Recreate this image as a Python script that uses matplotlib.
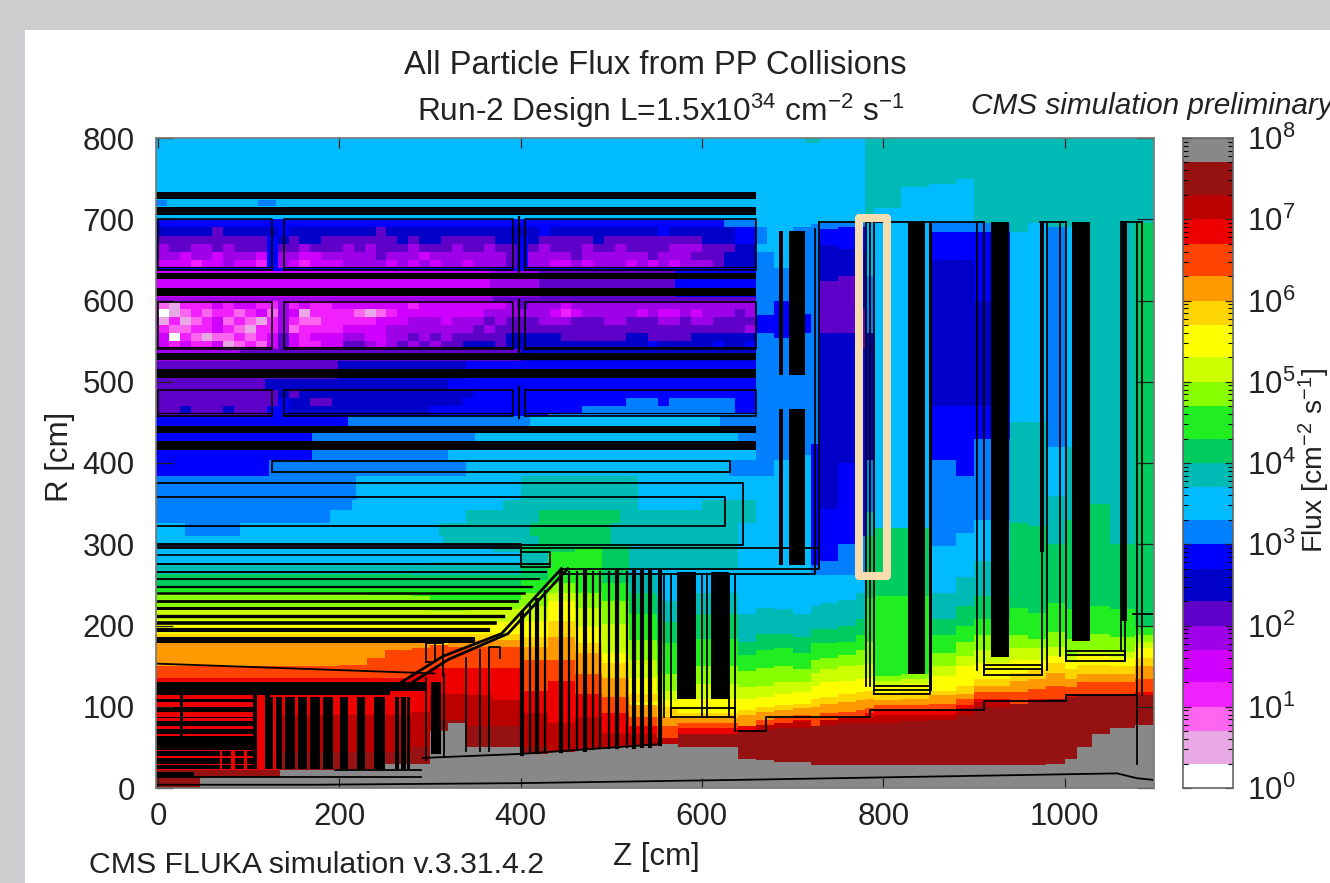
import re
import numpy as np
import matplotlib
matplotlib.use("Agg")
import matplotlib.pyplot as plt
from matplotlib.colors import ListedColormap, BoundaryNorm
from matplotlib.patches import Rectangle
from matplotlib.ticker import LogLocator, NullFormatter

plt.rcParams['font.family'] = ['Liberation Sans', 'DejaVu Sans']
plt.rcParams['mathtext.fontset'] = 'custom'
plt.rcParams['mathtext.rm'] = 'Liberation Sans'
plt.rcParams['mathtext.it'] = 'Liberation Sans:italic'
plt.rcParams['mathtext.default'] = 'regular'

# flux bands, a (lowest) to x (highest)
band_edges = [1, 2, 5, 10, 20, 50, 100, 200, 500, 1e3, 2e3, 5e3, 1e4, 2e4, 5e4, 1e5,
              2e5, 5e5, 1e6, 2e6, 5e6, 1e7, 2e7, 5e7, 1e8]
band_colors = ['#FFFFFF', '#E8A8E6', '#FF66F0', '#F020FF', '#D000FF', '#9E00E8', '#5E00C8', '#0000C8',
               '#0000FF', '#0080FF', '#00BBFF', '#00BBB5', '#00CC60', '#20EE20', '#88FF00', '#CCFF00',
               '#FFFF00', '#FFD500', '#FF9900', '#FF4400', '#EE0000', '#BB0000', '#961111', '#888888']
band_names = 'abcdefghijklmnopqrstuvwx'

# columns: left edge in Z, then band + top R going upward
flux_columns = [
    (-4, "w22 u137 t151 s178 r190 q207 p223 o240 n248 m264 l276 k299"),
    (46, "x14 w22 u137 t151 s178 r190 q207 p223 o240 n248 m264 l276 k299"),
    (135, "x22 w45 v90 u137 t151 s178 r190 q207 p223 o240 n248 m264 l276 k299"),
    (200, "x24 w45 v90 u137 t153 s178 r190 q207 p223 o240 n248 m264 l276 k299"),
    (230, "x24 w45 v90 u137 t160 s178 r190 q205 p222 o238 n248 m264 l276 k299"),
    (250, "x30 w45 v90 u137 t170 s180 r190 q205 p222 o238 n248 m264 l276 k299"),
    (280, "x30 w50 v95 u140 t172 s180 r190 q205 p220 o236 n246 m262 l276 k299"),
    (300, "x70 w85 v117 u149 t177 r190 q203 p218 o232 n246 m262 l278 k299"),
    (320, "x80 w85 v117 u149 t175 s182 r190 q203 p218 o232 n246 m262 l278 k299"),
    (340, "x51 w76 v115 u149 t175 s182 r190 q205 p220 o232 n246 m262 l278 k299"),
    (370, "x51 w76 v109 u149 t174 s182 r190 q205 p220 o232 n246 m262 l278 k290 l299"),
    (400, "x43 w51 v92 u121 t158 s174 r186 q207 p225 o240 n256 m275 l290 m299"),
    (430, "x45 v80 u133 t158 s186 r207 q231 p240 o252 n290 m299"),
    (460, "x49 v88 u117 t141 s166 r178 q199 p223 o240 n297 m299"),
    (490, "x51 v68 u92 t113 s137 r154 q166 p203 o231 n252 m299"),
    (520, "x53 v66 u76 t88 s104 r117 q137 p158 o182 n215 m240 l264 k270 l299"),
    (550, "x55 v63 t76 s88 r100 q108 p121 o141 n178 m205 l231 k270 l299"),
    (575, "x51 w67 u74 t80 s86 r92 q110 p128 o150 n185 m215 l240 k268 l299"),
    (640, "x37 w72 u76 s90 r97 q110 p125 o145 n165 m180 l215 k299"),
    (660, "x35 w73 v78 t84 s94 r100 q112 p127 o148 n170 m190 l222 k385 j560 i582 j660 k800"),
    (680, "x33 w74 v80 t87 s97 r103 q116 p130 o150 n172 m190 l220 k405 j555 i600 j640 k800"),
    (700, "x33 w74 v82 u85 t91 s99 r105 q118 p130 o147 n167 m187 l215 k410 j560 i585 j690 k800"),
    (720, "x29 w77 t86 s100 r110 q127 p143 o159 n178 m196 l224 k262 j275 i425 j695 k800"),
    (730, "x29 w78 v85 t92 s104 r113 q130 p147 o160 n178 m197 l228 k262 j280 i345 h560 g625 h668 i688 j697 k800"),
    (750, "x29 w80 v86 t94 s106 r116 q133 p150 o164 n180 m200 l232 k262 j300 i400 h560 g630 h665 i690 j697 k800"),
    (770, "x29 w80 v88 t96 s108 r118 q135 p152 o170 n188 m208 l240 k262 j310 i540 g590 h660 i690 j697 k800"),
    (780, "x29 w80 v88 u92 t98 s110 r120 q137 p155 o180 n235 m310 l340 j405 h560 j630 k697 l800"),
    (790, "x29 w80 v90 u96 t102 s108 r116 q126 p133 o139 n236 m320 k715 l800"),
    (820, "x29 w82 v90 u96 t103 s110 r118 q128 p135 o140 n236 m320 k740 l800"),
    (850, "x29 w84 v90 u96 t104 s114 r120 q139 p151 o167 n188 m208 l240 k298 j405 i470 h650 i684 j697 k745 l800"),
    (880, "x29 w90 v98 u102 t110 s116 r127 q151 p163 o180 n200 m224 l261 k314 j385 i470 h650 i684 j697 k750 l800"),
    (900, "x29 w100 v106 u110 t118 s127 r135 q155 p171 o188 n208 m236 l281 k330 j430 i470 h600 i684 j697 l800"),
    (940, "x29 w104 t118 s133 r143 q159 p173 o188 n222 m326 l450 k685 l800"),
    (960, "x29 w106 u110 t122 s135 r147 q159 p172 o184 n216 m322 l450 k697 l800"),
    (980, "x31 w110 t126 s143 r155 q162 p175 o192 n228 m300 l360 k420 j690 l800"),
    (1000, "x37 w112 u114 t125 s135 r147 q156 p165 o185 n220 m330 l420 k690 l800"),
    (1015, "x50 w115 t130 s141 r153 q163 p170 o190 n224 m350 l800"),
    (1030, "x66 w116 t130 s141 r153 q163 p170 o190 n224 m350 l800"),
    (1050, "x74 w116 t130 s140 r150 q160 p168 o186 n220 m300 l800"),
    (1078, "x78 w114 u118 t135 s150 r160 q172 p181 o188 n200 m697 l800"),
]

# rows above the tracker for Z < 660: R low, R high, band + right Z going along
barrel_rows = [
    (299, 311, "k315 l420 m500 l640 k660"),
    (311, 326, "k30 j90 k310 l410 m500 l640 k660"),
    (326, 342, "j190 k340 l420 m510 l660"),
    (342, 354, "j215 k380 l530 k600 l660"),
    (354, 384, "j218 k400 l530 k660"),
    (384, 404, "i122 j340 k630 j660"),
    (404, 427, "i170 j320 k660"),
    (427, 445, "i170 j350 k640 j660"),
    (445, 459, "i210 j410 k620 j660"),
    (459, 490, "g126 i139 h310 i430 j660"),
    (490, 505, "g118 h320 i660"),
    (505, 526, "g198 h340 i660"),
    (526, 540, "f90 g400 h660"),
    (540, 600, "f660"),
    (600, 605, "f370 g660"),
    (605, 636, "e366 f420 g570 i660"),
    (636, 701, "i660"),
    (701, 716, "k660"),
    (716, 725, "j10 k110 j130 k660"),
    (725, 800, "k660"),
]

# muon stations, 12 cm cells from Z=0, 10 cm rows from the given top R down
station_mb4_top = 700
station_mb4 = [
    "iiiiiiiiiiiiiiiiiiiiiiiiiiiiiiiiiiiiiiiiiiiiiiiiiiiijjj",
    "hhhhhghhhhhihhhhhhhhghhhhhhhhhhhhhhihhhhhhhhhhihhhhhhiij",
    "ggggggggggihghhggggggghghhggggghhihggggghggggggggghhhiij",
    "fggffgfgggiggfgggfgfgggfgggfggfggigfgggfggfggggfffggghh",
    "ffeffefffeiffeefffffgfffefffffffgiffffgffffffgfffggghhh",
    "eeedeefeedifedeeeffffefefeffefffgiffeefefffefefefffghhh",
]
station_mb3_top = 600
station_mb3 = [
    "cbdddedeeddfdeddeeeeeeedeeeeeeeefgfffefffffffffffffffff",
    "abcdcddcdecfebddddcbcdeeeeeeeeffffffedefffffefeefefffgf",
    "bdbcdecdcbdfdccdddddeeefffefffgfgggfffgggffgggffgffgggg",
    "dccddedcbddfcddddeeeeffffffffgfggggggggggggggggggggggg",
    "eadcbccdcdegedeeeffeeffgfgfggggghhhhhgggggghhgggghhhhhh",
    "ededdebcdcegeddeeggfefgfgfgghhhghhhhhhhhhhhhhihhhhhihhi",
]
station_mb2_top = 490
station_mb2 = [
    "ggggggggggghghhhhhhhhhhhhhhhhiiiiiiiiiiiiiiiiiiiiiiiiii",
    "gggggggggggihhgghhhhhhhhhhhhiiiiiiiiiiiiiiijjjijjjjjjii",
    "gghggghgggiihhhhhhhhhhhhhiiiiiiiiiiiiiijjjjjjjjjjjjjjii",
]

# small bits of flux on top of the columns: Z0, Z1, R0, R1, band
flux_patches = [(523, 637, 103, 107, 'q'), (715, 730, 795, 800, 'l')]

# iron: Z0, Z1, R0, R1
iron_r = [(725, 733), (705, 715), (626, 634), (605, 616), (527, 536), (505, 516), (437, 445), (416, 427)]
black_blocks = [
    (696, 714, 508, 685), (696, 714, 275, 467), (685, 689, 508, 685), (685, 689, 275, 467),
    (827, 846, 140, 697), (919, 939, 161, 697), (1008, 1028, 181, 697),
    (850, 854, 120, 697), (973, 977, 290, 697), (1063, 1069, 205, 697),
    (573, 593, 110, 266), (610, 630, 110, 266),
    (-3, 350, 178, 186), (-3, 256, 115, 131), (256, 296, 120, 131),
    (-3, 105, 106, 110), (-3, 105, 93, 100), (-3, 105, 86, 88), (-3, 105, 76, 82),
    (-3, 105, 67, 73), (-3, 105, 47, 64), (-3, 105, 39, 45), (-3, 105, 30, 37), (-3, 105, 23, 28),
    (-3, 40, 14, 20), (24, 28, 60, 115), (105, 109, 24, 115), (118, 123, 24, 115),
    (301, 312, 42, 130),
]
# gaps between the red windows of the endcap calorimeter
hcal_bars = [(123, 127), (130, 137), (140, 151), (154, 164), (168, 179), (182, 193), (201, 210),
             (219, 228), (238, 250), (261, 266), (268, 273), (275, 278)]
red_windows = [(68, 71, 24, 47), (81, 85, 24, 47), (95, 98, 24, 47)]

# outlines, as Z list and R list
muon_box_z = [(0, 126), (139, 392), (405, 660)]
muon_box_r = [(638, 700), (540, 598), (458, 490)]
muon_gap_z = [132, 398]
tracker_line_r = [297, 287, 276, 266, 257, 248, 240, 230, 221, 212, 203, 194]
tracker_line_z = [400, 400, 432, 428, 420, 412, 404, 396, 388, 380, 372, 364]
tracker_line_w = [1.2, 1.2, 1.4, 1.4, 1.5, 1.6, 1.8, 2.0, 2.2, 2.4, 2.6, 3.0]
yoke_z = [401, 410, 418, 427, 445, 453, 462, 471, 480, 488, 497, 506, 517, 525, 534, 543, 554]
yoke_top = [215, 225, 232, 243, 266, 266, 266, 266, 266, 266, 266, 266, 266, 266, 266, 266, 266]
yoke_bottom = [42, 43, 44, 44, 45, 46, 47, 47, 48, 49, 49, 50, 51, 51, 52, 52, 54]
yoke_w = [3, 1.6, 3, 1.6, 3, 1.6, 1.6, 3, 1.6, 1.6, 1.6, 3, 1.6, 3, 3, 3, 3]
diagonal_z = [[445, 379, 314, 261], [452, 386, 320, 268]]
diagonal_r = [[270, 190, 162, 125], [270, 190, 158, 121]]
outlines = [
    ([126, 631, 631, 126, 126], [389, 389, 402, 402, 389]),
    ([0, 645, 645, 0], [299, 299, 376, 376]),
    ([0, 625, 625, 0], [323, 323, 358, 358]),
    ([0, 305], [153, 141]),
    ([0, 660, 729, 729], [296, 296, 296, 296]),
    ([445, 729, 729], [270, 270, 697]),
    ([445, 725, 725], [264, 264, 688]),
    ([0, 400, 400, 432, 432, 400], [300, 300, 272, 272, 290, 290]),
    ([296, 296, 305, 305, 296], [155, 178, 178, 155, 155]),
    ([305, 314, 314], [178, 178, 138]),
    ([340, 340], [46, 160]), ([355, 355], [46, 170]), ([365, 365, 377, 377], [46, 174, 174, 160]),
    ([296, 296], [35, 135]), ([315, 315], [40, 140]),
    ([292, 401, 554], [37, 42, 54]),
    ([0, 290], [14, 14]), ([195, 290], [22, 22]),
    ([-3, 170, 400, 640, 1058, 1080, 1098], [4, 4, 6, 10, 18, 12, 10]),
    ([640, 671, 671, 785, 785, 911, 911, 1002, 1002, 1080], [70, 70, 88, 88, 96, 96, 107, 107, 115, 115]),
    ([558, 558], [88, 262]), ([566, 566], [88, 262]), ([600, 600], [88, 262]), ([606, 606], [88, 262]),
    ([630, 630], [88, 262]), ([637, 637], [70, 262]),
    ([566, 637, 637, 566, 566], [87, 87, 98, 98, 87]),
    ([729, 772], [697, 697]), ([853, 911], [697, 697]), ([973, 1002], [697, 697]), ([1062, 1085], [697, 697]),
    ([781, 781, 785, 785], [126, 697, 697, 126]),
    ([790, 790, 852, 852, 790], [116, 697, 697, 116, 116]), ([790, 852], [121, 121]), ([790, 852], [126, 126]),
    ([903, 903, 911, 911], [145, 697, 697, 139]), ([975, 975, 981, 981], [139, 697, 697, 145]),
    ([911, 975, 975, 911, 911], [139, 139, 151, 151, 139]), ([911, 975], [147, 147]),
    ([995, 995, 1002, 1002], [163, 697, 697, 156]),
    ([1002, 1067, 1067, 1002, 1002], [156, 156, 169, 169, 156]), ([1002, 1067], [164, 164]),
    ([1062, 1062, 1067, 1067], [170, 697, 697, 156]),
    ([1080, 1080, 1085, 1085], [115, 697, 697, 115]),
    ([1076, 1098], [214, 214]),
    ([1080, 1080], [30, 115]),
]

z_ticks = [0, 200, 400, 600, 800, 1000]
r_ticks = [0, 100, 200, 300, 400, 500, 600, 700, 800]
flux_ticks = [1, 10, 100, 1e3, 1e4, 1e5, 1e6, 1e7, 1e8]
flux_tick_labels = ['$10^{%d}$' % i for i in range(9)]


def segments(text):
    return [(a, int(b)) for a, b in re.findall(r'([a-x])(\d+)', text)]


def main():
    dz = 2.0
    dr = 2.0
    z_edges = np.arange(-4, 1100 + dz, dz)
    r_edges = np.arange(0, 800 + dr, dr)
    z_mid = 0.5 * (z_edges[1:] + z_edges[:-1])
    r_mid = 0.5 * (r_edges[1:] + r_edges[:-1])
    band_mid = np.sqrt(np.array(band_edges[1:]) * np.array(band_edges[:-1]))
    band_value = dict(zip(band_names, band_mid))
    flux = np.full((len(r_mid), len(z_mid)), band_value['k'])

    # columns first
    for i in range(len(flux_columns)):
        z0, text = flux_columns[i]
        z1 = flux_columns[i + 1][0] if i + 1 < len(flux_columns) else 1101
        zs = (z_mid >= z0) & (z_mid < z1)
        low = 0
        for name, top in segments(text):
            rs = (r_mid >= low) & (r_mid < top)
            flux[np.ix_(rs, zs)] = band_value[name]
            low = top
    # barrel rows above
    for r0, r1, text in barrel_rows:
        rs = (r_mid >= r0) & (r_mid < r1)
        low = -4
        for name, end in segments(text):
            zs = (z_mid >= low) & (z_mid < end)
            flux[np.ix_(rs, zs)] = band_value[name]
            low = end
    # blotchy muon stations
    for top, rows in [(station_mb4_top, station_mb4), (station_mb3_top, station_mb3), (station_mb2_top, station_mb2)]:
        for j in range(len(rows)):
            rs = (r_mid < top - j * 10) & (r_mid >= top - (j + 1) * 10)
            for k in range(len(rows[j])):
                zs = (z_mid >= k * 12) & (z_mid < (k + 1) * 12)
                flux[np.ix_(rs, zs)] = band_value[rows[j][k]]
    for z0, z1, r0, r1, name in flux_patches:
        rs = (r_mid >= r0) & (r_mid < r1)
        zs = (z_mid >= z0) & (z_mid < z1)
        flux[np.ix_(rs, zs)] = band_value[name]

    cmap = ListedColormap(band_colors)
    norm = BoundaryNorm(band_edges, len(band_colors))

    fig = plt.figure(figsize=(13.30, 8.83), dpi=100, facecolor='#CDCED0')
    fig.add_artist(Rectangle((25 / 1330, 0), 1 - 25 / 1330, 1 - 30 / 883, transform=fig.transFigure,
                             facecolor='white', edgecolor='none', zorder=-5))

    ax = fig.add_axes([155.5 / 1330, 95 / 883, 998.5 / 1330, 650 / 883])
    ax.pcolormesh(z_edges, r_edges, flux, cmap=cmap, norm=norm, rasterized=True)

    # iron and absorbers
    for r0, r1 in iron_r:
        ax.fill_between([-3, 660], r0, r1, color='black', lw=0)
    for z0, z1, r0, r1 in black_blocks:
        ax.fill_between([z0, z1], r0, r1, color='black', lw=0)
    for z0, z1 in hcal_bars:
        ax.fill_between([z0, z1], 24, 112, color='black', lw=0)
    for z0, z1, r0, r1 in red_windows:
        ax.fill_between([z0, z1], r0, r1, color=band_colors[20], lw=0)

    # outlines
    for z0, z1 in muon_box_z:
        for r0, r1 in muon_box_r:
            ax.plot([z0, z1, z1, z0, z0], [r0, r0, r1, r1, r0], color='black', lw=1.2)
            ax.plot([z0, z1], [r0 + 3, r0 + 3], color='black', lw=0.8)
    for z in muon_gap_z:
        for r0, r1 in muon_box_r:
            if z == 398:
                ax.plot([z, z], [r0 - 3, r1 + 3], color='black', lw=1.5)
    for i in range(len(tracker_line_r)):
        ax.plot([0, tracker_line_z[i]], [tracker_line_r[i], tracker_line_r[i]], color='black', lw=tracker_line_w[i])
    for i in range(len(yoke_z)):
        ax.plot([yoke_z[i], yoke_z[i]], [yoke_bottom[i], yoke_top[i]], color='black', lw=yoke_w[i])
    for i in range(len(diagonal_z)):
        ax.plot(diagonal_z[i], diagonal_r[i], color='black', lw=2.0)
    for zs, rs in outlines:
        ax.plot(zs, rs, color='black', lw=1.3)

    # highlighted station
    ax.add_patch(Rectangle((773.8, 261), 30.2, 440.5, fill=False, edgecolor='#F6DDB0', lw=5.8,
                           joinstyle='round', zorder=5))

    ax.set_xlim(-2.8, 1098.7)
    ax.set_ylim(0, 800)
    ax.set_xticks(z_ticks)
    ax.set_yticks(r_ticks)
    ax.tick_params(axis='x', direction='in', top=True, bottom=True, length=7, width=0.9, labelsize=22.5, pad=10,
                   colors='#222222')
    ax.tick_params(axis='y', direction='in', left=True, right=True, length=12, width=0.9, labelsize=22.5, pad=15,
                   colors='#222222')
    for s in ax.spines.values():
        s.set_color('#777777')
        s.set_linewidth(1.2)

    # colour scale
    cax = fig.add_axes([1183 / 1330, 95 / 883, 50 / 1330, 650 / 883])
    cax.pcolormesh([0, 1], band_edges, band_mid[:, None], cmap=cmap, norm=norm)
    cax.set_yscale('log')
    cax.set_ylim(1, 1e8)
    cax.set_xticks([])
    cax.yaxis.tick_right()
    cax.set_yticks(flux_ticks)
    cax.set_yticklabels(flux_tick_labels)
    cax.yaxis.set_minor_locator(LogLocator(base=10, subs=np.arange(2, 10), numticks=20))
    cax.yaxis.set_minor_formatter(NullFormatter())
    cax.tick_params(axis='y', which='major', direction='in', left=True, right=True, length=6, width=0.9,
                    labelsize=22.5, pad=10, colors='#222222')
    cax.tick_params(axis='y', which='minor', direction='in', left=True, right=True, length=3.5, width=0.8)
    for s in cax.spines.values():
        s.set_color('#666666')
        s.set_linewidth(1.2)

    # text in figure pixels
    def put(x, y, s, **kw):
        fig.text(x / 1330, 1 - y / 883, s, color='#222222', **kw)

    put(655, 65, 'All Particle Flux from PP Collisions', fontsize=23.6, ha='center', va='center')
    put(661, 111, 'Run-2 Design L=1.5x10$^{34}$ cm$^{-2}$ s$^{-1}$', fontsize=22.8, ha='center', va='center')
    put(971, 106, 'CMS simulation preliminary', fontsize=21.4, style='italic', ha='left', va='center')
    put(60, 457, 'R [cm]', fontsize=22.5, rotation=90, ha='center', va='center')
    put(656, 857, 'Z [cm]', fontsize=22.5, ha='center', va='center')
    put(89, 865, 'CMS FLUKA simulation v.3.31.4.2', fontsize=21.8, ha='left', va='center')
    put(1314, 460, 'Flux [cm$^{-2}$ s$^{-1}$]', fontsize=20.5, rotation=90, ha='center', va='center')

    plt.savefig("out.png", dpi=100, facecolor=fig.get_facecolor())


if __name__ == "__main__":
    main()
